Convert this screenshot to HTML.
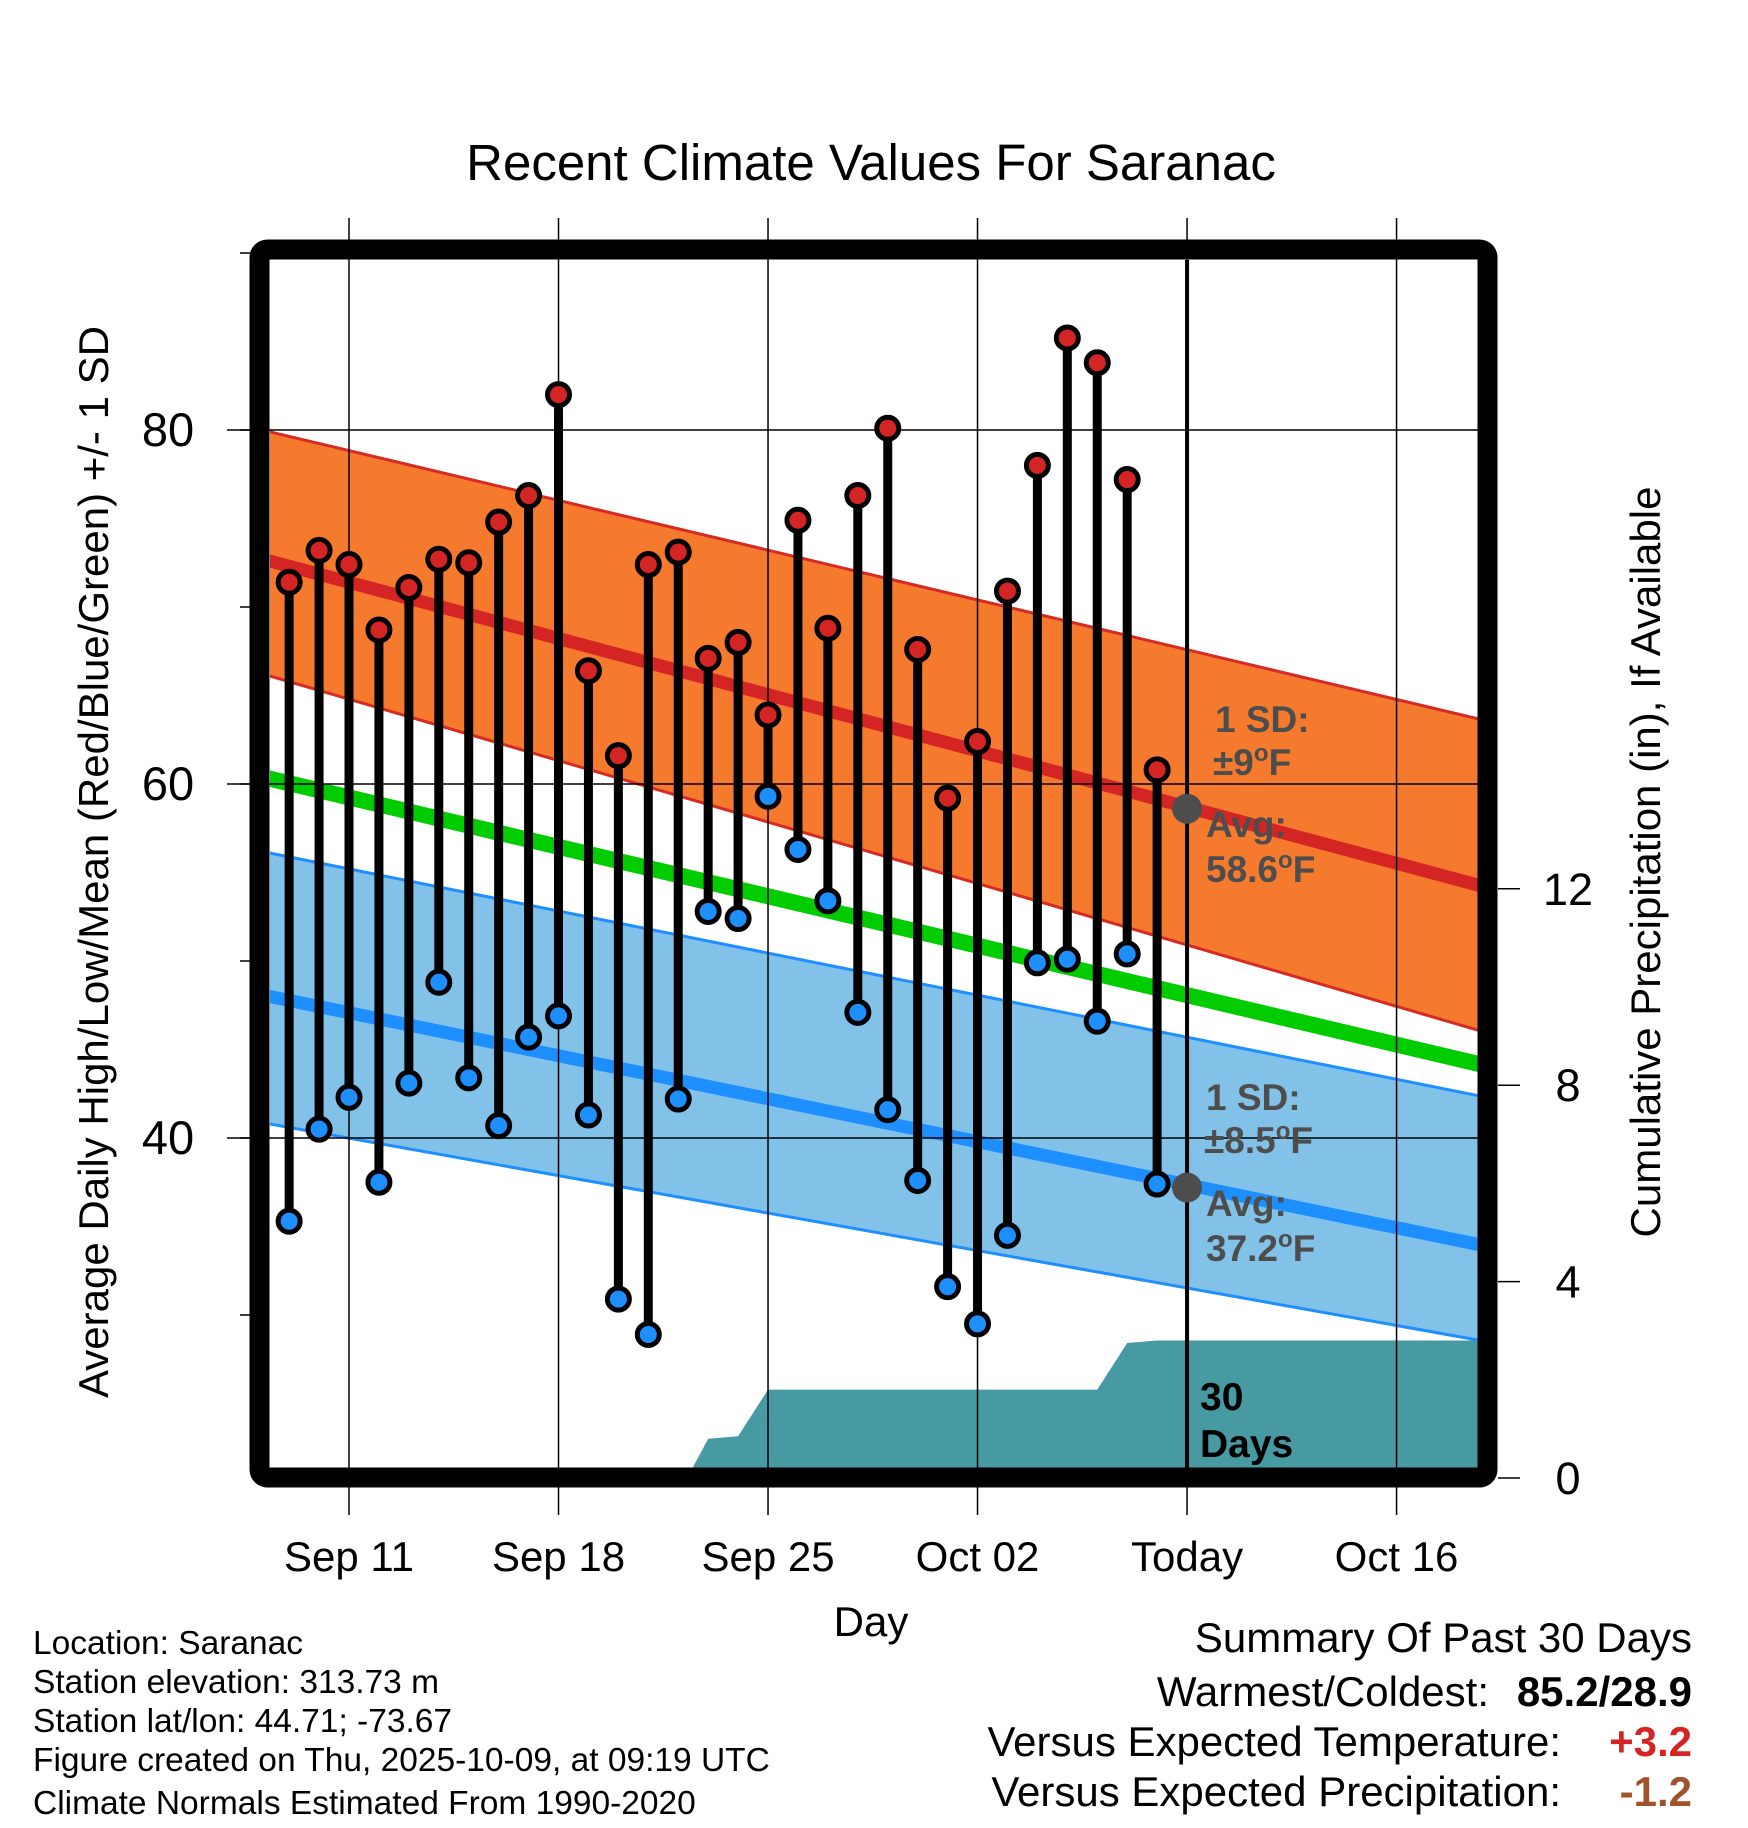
<!DOCTYPE html>
<html><head><meta charset="utf-8"><style>
body{margin:0;background:#fff;}
svg{display:block;font-family:"Liberation Sans",Arial,sans-serif;}
</style></head><body>
<svg id="chart" width="1748" height="1828" viewBox="0 0 1748 1828">
<g id="bg"></g>
</svg>
<script>
// ---- data ----
const dayLabels = ["Sep 11","Sep 18","Sep 25","Oct 02","Today","Oct 16"];
const dayTicks = [0,7,14,21,28,35];
const tempTicks = [30,40,50,60,70,80,90];
const tempLabels = [40,60,80];
const precipTicks = [0,4,8,12];
const obsDays = [-2,-1,0,1,2,3,4,5,6,7,8,9,10,11,12,13,14,15,16,17,18,19,20,21,22,23,24,25,26,27];
const highs = [71.4,73.2,72.4,68.7,71.1,72.7,72.5,74.8,76.3,82.0,66.4,61.6,72.4,73.1,67.1,68.0,63.9,74.9,68.8,76.3,80.1,67.6,59.2,62.4,70.9,78.0,85.2,83.8,77.2,60.8];
const lows = [35.3,40.5,42.3,37.5,43.1,48.8,43.4,40.7,45.7,46.9,41.3,30.9,28.9,42.2,52.8,52.4,59.3,56.3,53.4,47.1,41.6,37.6,31.6,29.5,34.5,49.9,50.1,46.6,50.4,37.4];
const normDays = [-3,38];
const highUpper = [80.04,63.57];
const highAvg = [72.76,54.16];
const highLower = [66.28,45.95];
const meanAvg = [60.44,44.08];
const lowUpper = [56.22,42.3];
const lowAvg = [48.12,33.89];
const lowLower = [40.9,28.5];
const precipDays = [11.3,12,13,14,25,26,27,38];
const precipVals = [0,0.8,0.85,1.8,1.8,2.75,2.8,2.8];
const todayDay = 28, todayHigh = 58.6, todayLow = 37.2;

// ---- axes ----
const X0=270,X1=1478,Y0=260,Y1=1468;
const xs = d => 349 + d*29.93;
const ys = v => 430 - (v-80)*17.7;
const yp = p => 1478 - p*49.1;
const svg=document.getElementById('chart');
const NS='http://www.w3.org/2000/svg';
function mk(tag,attrs,parent){const e=document.createElementNS(NS,tag);for(const k in attrs)e.setAttribute(k,attrs[k]);(parent||svg).appendChild(e);return e;}
const defs=mk('defs',{});
const cp=mk('clipPath',{id:'clip'},defs);
mk('rect',{x:X0,y:Y0,width:X1-X0,height:Y1-Y0},cp);
const plot=mk('g',{'clip-path':'url(#clip)'});


function band(up,lo,fill,name){
  const pts=normDays.map((d,i)=>xs(d)+','+ys(up[i])).concat(normDays.slice().reverse().map((d,i)=>xs(d)+','+ys(lo[lo.length-1-i])));
  const p=mk('polygon',{points:pts.join(' '),fill:fill},plot);
  
  
}
function line(arr,color,w,name){
  const l=mk('polyline',{points:normDays.map((d,i)=>xs(d)+','+ys(arr[i])).join(' '),fill:'none',stroke:color,'stroke-width':w},plot);
  
  
}
band(highUpper,highLower,'#f57a2e','high-sd-band');
line(highUpper,'#d62a23',3,'high-upper-line');
line(highLower,'#d62a23',3,'high-lower-line');
band(lowUpper,lowLower,'#82c1e8','low-sd-band');
line(lowUpper,'#1e8fff',3,'low-upper-line');
line(lowLower,'#1e8fff',3,'low-lower-line');
line(highAvg,'#d42424',13,'avg-high-line');
line(meanAvg,'#00cc00',16,'avg-mean-line');
line(lowAvg,'#1e8fff',13,'avg-low-line');
// precip
const pp=[xs(precipDays[0])+','+yp(0)].concat(precipDays.map((d,i)=>xs(d)+','+yp(precipVals[i]))).concat([xs(precipDays[precipDays.length-1])+','+yp(0)]);
const pr=mk('polygon',{points:pp.join(' '),fill:'#4799a2'},plot);


// grid
dayTicks.forEach(d=>{const g=mk('line',{x1:xs(d),x2:xs(d),y1:218,y2:1515,stroke:'#000','stroke-width':1.5});

});
tempLabels.forEach(v=>{const g=mk('line',{x1:227,x2:X1,y1:ys(v),y2:ys(v),stroke:'#000','stroke-width':1.5});

});
tempTicks.forEach(v=>{const t=mk('line',{x1:240,x2:252,y1:ys(v),y2:ys(v),stroke:'#000','stroke-width':1.5});

});
// today line
const tl=mk('line',{x1:xs(todayDay),x2:xs(todayDay),y1:Y0,y2:Y1,stroke:'#000','stroke-width':4});


// stems & points
obsDays.forEach((d,i)=>{
  const s=mk('line',{x1:xs(d),x2:xs(d),y1:ys(highs[i]),y2:ys(lows[i]),stroke:'#000','stroke-width':9});
  
  
});
obsDays.forEach((d,i)=>{
  const h=mk('circle',{cx:xs(d),cy:ys(highs[i]),r:11,fill:'#d42424',stroke:'#000','stroke-width':5});
  
  
  const l=mk('circle',{cx:xs(d),cy:ys(lows[i]),r:11,fill:'#1e8fff',stroke:'#000','stroke-width':5});
  
  
});
[todayHigh,todayLow].forEach(v=>{const c=mk('circle',{cx:xs(todayDay),cy:ys(v),r:15,fill:'#4d4d4d'});

});
// frame
const fr=mk('rect',{x:259.5,y:249.5,width:1228,height:1228,rx:8,fill:'none',stroke:'#000','stroke-width':20});


// right ticks
precipTicks.forEach(p=>{const t=mk('line',{x1:1498,x2:1520,y1:yp(p),y2:yp(p),stroke:'#000','stroke-width':1.5});


const tx=mk('text',{x:1568,y:yp(p)+16,'font-size':45,'text-anchor':'middle'});tx.textContent=p;

});
tempLabels.forEach(v=>{const tx=mk('text',{x:168,y:ys(v)+16,'font-size':47,'text-anchor':'middle'});tx.textContent=v;

});
dayTicks.forEach((d,i)=>{const tx=mk('text',{x:xs(d),y:1571,'font-size':42,'text-anchor':'middle'});tx.textContent=dayLabels[i];

});
</script>
<div style="position:absolute;left:0;top:0;width:1748px;height:1828px;pointer-events:none;">
<svg width="1748" height="1828" style="font-family:'Liberation Sans',Arial,sans-serif">
<text x="871" y="180" font-size="51" text-anchor="middle">Recent Climate Values For Saranac</text>
<text x="871" y="1636" font-size="42" text-anchor="middle">Day</text>
<text transform="translate(108,862) rotate(-90)" font-size="42" text-anchor="middle">Average Daily High/Low/Mean (Red/Blue/Green) +/- 1 SD</text>
<text transform="translate(1660,862) rotate(-90)" font-size="42" text-anchor="middle">Cumulative Precipitation (in), If Available</text>
<g font-weight="bold" font-size="37" fill="#4d4d4d">
<text x="1215" y="732">1 SD:</text>
<text x="1213" y="775">±9<tspan font-size="24" dy="-14">o</tspan><tspan dy="14">F</tspan></text>
<text x="1206" y="837">Avg:</text>
<text x="1206" y="882">58.6<tspan font-size="24" dy="-14">o</tspan><tspan dy="14">F</tspan></text>
</g>
<g font-weight="bold" font-size="37" fill="#4d4d4d">
<text x="1206" y="1110">1 SD:</text>
<text x="1204" y="1153">±8.5<tspan font-size="24" dy="-14">o</tspan><tspan dy="14">F</tspan></text>
<text x="1206" y="1216">Avg:</text>
<text x="1206" y="1261">37.2<tspan font-size="24" dy="-14">o</tspan><tspan dy="14">F</tspan></text>
</g>
<g font-weight="bold" font-size="39" fill="#000">
<text x="1200" y="1410">30</text>
<text x="1200" y="1457">Days</text>
</g>
<g font-size="33.5">
<text x="33" y="1654">Location: Saranac</text>
<text x="33" y="1693">Station elevation: 313.73 m</text>
<text x="33" y="1732">Station lat/lon: 44.71; -73.67</text>
<text x="33" y="1771">Figure created on Thu, 2025-10-09, at 09:19 UTC</text>
<text x="33" y="1814">Climate Normals Estimated From 1990-2020</text>
</g>
<g font-size="42">
<text x="1692" y="1652" text-anchor="end">Summary Of Past 30 Days</text>
<text x="1489" y="1706" text-anchor="end">Warmest/Coldest:</text>
<text x="1692" y="1706" text-anchor="end" font-weight="bold">85.2/28.9</text>
<text x="1561" y="1756" text-anchor="end">Versus Expected Temperature:</text>
<text x="1692" y="1756" text-anchor="end" font-weight="bold" fill="#d42424">+3.2</text>
<text x="1561" y="1806" text-anchor="end">Versus Expected Precipitation:</text>
<text x="1692" y="1806" text-anchor="end" font-weight="bold" fill="#a0522d">-1.2</text>
</g>
</svg>
</div>
</body></html>
